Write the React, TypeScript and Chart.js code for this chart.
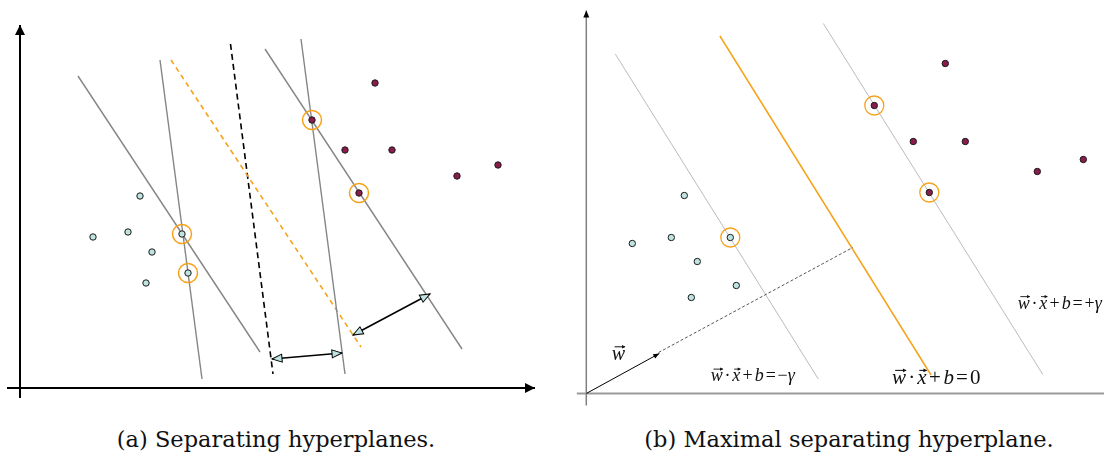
import { useEffect, useRef } from "react";
import { Chart, registerables } from "chart.js";

Chart.register(...registerables);

// ---------- Panel (a): separating hyperplanes (origin at the axes' crossing, y upwards) ----------
const aNegX = [120, 73, 108, 132, 126, 162, 168];
const aNegY = [192, 151, 156, 136, 105, 154, 115];
const aPosX = [355, 292, 325, 372, 339, 437, 478];
const aPosY = [305, 268, 238, 238, 195, 212, 223];
const aNegSupport = [5, 6];
const aPosSupport = [1, 4];
// segments: [x1, y1, x2, y2]
const aHyperplanes = [
  [58, 312, 240, 36],
  [140, 328, 182, 9],
  [245, 339, 442, 39],
  [281, 349, 325, 14],
];
const aOrangeDashed = [151, 328, 341, 41];
const aBlackDashed = [210.5, 344, 253, 14];
const aMarginArrows = [
  [252, 29, 322, 35],
  [333, 53, 410, 94],
];
const aXAxis = [-13, 0, 515, 0];
const aYAxis = [0, -10, 0, 363];

// ---------- Panel (b): maximal separating hyperplane ----------
const bNegX = [98, 46, 85, 111, 150, 105, 144];
const bNegY = [198, 150, 156, 132, 108, 96, 156];
const bPosX = [359, 288, 327, 379, 343, 451, 497];
const bPosY = [330, 288, 252, 252, 201, 222, 234];
const bNegSupport = [6];
const bPosSupport = [1, 4];
const bMarginMinus = [29, 339.5, 232, 14.5];
const bMarginPlus = [237, 370, 456.5, 19];
const bHyperplane = [133.6, 357.5, 344.7, 18.5];
const bNormalDashed = [72.3, 41, 266.4, 146];
const bWVector = [0, 0, 73, 40];
const bXAxis = [-9.5, 0, 518, 0];
const bYAxis = [0, -12, 0, 383];
const bLabelW = [32, 38.5];
const bLabelMinus = [166.5, 17];
const bLabelZero = [350, 14.5];
const bLabelPlus = [431.4, 89.5];

const captions = ["(a) Separating hyperplanes.", "(b) Maximal separating hyperplane."];

const TEAL = "#bfe3e1";
const MAROON = "#8a1c4c";
const ORANGE = "#f7a21b";

const pts = (xs: number[], ys: number[], idx?: number[]) =>
  (idx ?? xs.map((_, i) => i)).map((i) => ({ x: xs[i], y: ys[i] }));
const seg = (s: number[]) => [
  { x: s[0], y: s[1] },
  { x: s[2], y: s[3] },
];

const lineDs = (s: number[], color: string, width: number, extra: any = {}) => ({
  type: "line",
  data: seg(s),
  showLine: true,
  borderColor: color,
  borderWidth: width,
  pointRadius: 0,
  fill: false,
  tension: 0,
  ...extra,
});

const pointDs = (data: any[], fill: string, r: number, border: string, bw: number) => ({
  type: "scatter",
  data,
  pointRadius: r,
  pointHoverRadius: r,
  pointBackgroundColor: fill,
  pointBorderColor: border,
  pointBorderWidth: bw,
  showLine: false,
});

const arrowPlugin = {
  id: "arrowHeads",
  afterDatasetsDraw(chart: any) {
    const ctx = chart.ctx;
    chart.data.datasets.forEach((ds: any, i: number) => {
      if (!ds.heads) return;
      const el = chart.getDatasetMeta(i).data;
      const n = el.length;
      const draw = (tip: any, from: any, h: any) => {
        const ang = Math.atan2(tip.y - from.y, tip.x - from.x);
        ctx.save();
        ctx.translate(tip.x, tip.y);
        ctx.rotate(ang);
        ctx.beginPath();
        ctx.moveTo(0, 0);
        ctx.lineTo(-h.len, h.half);
        ctx.lineTo(-h.len, -h.half);
        ctx.closePath();
        ctx.fillStyle = h.fill;
        ctx.fill();
        if (h.stroke) {
          ctx.lineWidth = h.lw;
          ctx.strokeStyle = h.stroke;
          ctx.lineJoin = "miter";
          ctx.stroke();
        }
        ctx.restore();
      };
      if (ds.heads.end) draw(el[n - 1], el[n - 2], ds.heads.end);
      if (ds.heads.start) draw(el[0], el[1], ds.heads.start);
    });
  },
};

type Piece = { t: string; it?: boolean; vec?: boolean; pad?: number };
const formula = (rhs: Piece[]): Piece[] => [
  { t: "w", it: true, vec: true },
  { t: "\u00b7", pad: 0.1 },
  { t: "x", it: true, vec: true },
  { t: "+", pad: 0.12 },
  { t: "b", it: true },
  { t: "=", pad: 0.1 },
  ...rhs,
];

const drawFormula = (ctx: any, pieces: Piece[], x: number, y: number, size: number, align: string) => {
  const fam = '"Liberation Serif", "Times New Roman", serif';
  const fontOf = (p: Piece) => `${p.it ? "italic " : ""}${size}px ${fam}`;
  const widths = pieces.map((p) => {
    ctx.font = fontOf(p);
    return ctx.measureText(p.t).width + 2 * (p.pad ?? 0) * size;
  });
  const total = widths.reduce((a, b) => a + b, 0);
  let cx = align === "center" ? x - total / 2 : x;
  ctx.save();
  ctx.fillStyle = "#111";
  ctx.strokeStyle = "#111";
  ctx.textBaseline = "alphabetic";
  ctx.textAlign = "left";
  const base = y + size * 0.25;
  pieces.forEach((p, i) => {
    ctx.font = fontOf(p);
    const gx = cx + (p.pad ?? 0) * size;
    const w = ctx.measureText(p.t).width;
    ctx.fillText(p.t, gx, base);
    if (p.vec) {
      const ay = base - size * 0.66;
      const x0 = gx + w * 0.22;
      const x1 = gx + w * 1.0;
      ctx.lineWidth = Math.max(0.8, size * 0.05);
      ctx.beginPath();
      ctx.moveTo(x0, ay);
      ctx.lineTo(x1, ay);
      ctx.stroke();
      ctx.beginPath();
      ctx.moveTo(x1 + 0.5, ay);
      ctx.lineTo(x1 - size * 0.15, ay - size * 0.09);
      ctx.lineTo(x1 - size * 0.15, ay + size * 0.09);
      ctx.closePath();
      ctx.fill();
    }
    cx += widths[i];
  });
  ctx.restore();
};

const labelsPlugin = (labels: { at: number[]; pieces: Piece[]; size: number; align: string }[]) => ({
  id: "formulaLabels",
  afterDatasetsDraw(chart: any) {
    const xs = chart.scales.x;
    const ys = chart.scales.y;
    labels.forEach((l) =>
      drawFormula(chart.ctx, l.pieces, xs.getPixelForValue(l.at[0]), ys.getPixelForValue(l.at[1]), l.size, l.align)
    );
  },
});

const baseOptions = (xmin: number, xmax: number, ymin: number, ymax: number) => ({
  responsive: false,
  animation: false,
  devicePixelRatio: 1,
  layout: { padding: 0, autoPadding: false },
  plugins: { legend: { display: false }, tooltip: { enabled: false } },
  events: [],
  scales: {
    x: { type: "linear", min: xmin, max: xmax, display: false },
    y: { type: "linear", min: ymin, max: ymax, display: false },
  },
});

const blackHead = { len: 10, half: 5, fill: "#000" };
const tealHead = { len: 10, half: 4, fill: TEAL, stroke: "#000", lw: 1 };

function PanelA() {
  const ref = useRef<HTMLCanvasElement>(null);
  useEffect(() => {
    const datasets: any[] = [
      pointDs(pts(aNegX, aNegY, aNegSupport), "rgba(0,0,0,0)", 9.5, ORANGE, 1.5),
      pointDs(pts(aPosX, aPosY, aPosSupport), "rgba(0,0,0,0)", 9.5, ORANGE, 1.5),
      pointDs(pts(aNegX, aNegY), TEAL, 3.2, "#1a1a1a", 1),
      pointDs(pts(aPosX, aPosY), MAROON, 3.2, "#1a1a1a", 1),
      ...aMarginArrows.map((s) => ({ ...lineDs(s, "#000", 1.5), heads: { start: tealHead, end: tealHead } })),
      ...aHyperplanes.map((s) => lineDs(s, "#858585", 1.4)),
      lineDs(aOrangeDashed, ORANGE, 1.6, { borderDash: [5, 4] }),
      lineDs(aBlackDashed, "#000", 1.6, { borderDash: [6, 4] }),
      { ...lineDs(aXAxis, "#000", 2), heads: { end: blackHead } },
      { ...lineDs(aYAxis, "#000", 2), heads: { end: blackHead } },
    ];
    const chart = new Chart(ref.current as HTMLCanvasElement, {
      type: "scatter",
      data: { datasets },
      options: baseOptions(-20, 532, -22, 388) as any,
      plugins: [arrowPlugin as any],
    });
    return () => chart.destroy();
  }, []);
  return <canvas ref={ref} width={552} height={410} style={{ position: "absolute", left: 0, top: 0 }} />;
}

function PanelB() {
  const ref = useRef<HTMLCanvasElement>(null);
  useEffect(() => {
    const datasets: any[] = [
      pointDs(pts(bNegX, bNegY, bNegSupport), "rgba(0,0,0,0)", 9.5, ORANGE, 1.3),
      pointDs(pts(bPosX, bPosY, bPosSupport), "rgba(0,0,0,0)", 9.5, ORANGE, 1.3),
      pointDs(pts(bNegX, bNegY), TEAL, 3.2, "#1a1a1a", 1),
      pointDs(pts(bPosX, bPosY), MAROON, 3.2, "#1a1a1a", 1),
      { ...lineDs(bWVector, "#000", 1), heads: { end: { len: 6, half: 2.5, fill: "#000" } } },
      lineDs(bNormalDashed, "#444", 0.9, { borderDash: [3, 2] }),
      lineDs(bHyperplane, ORANGE, 1.5),
      lineDs(bMarginMinus, "#b3b3b3", 0.9),
      lineDs(bMarginPlus, "#b3b3b3", 0.9),
      lineDs(bXAxis, "#9a9a9a", 2),
      { ...lineDs(bYAxis, "#808080", 1.5), heads: { end: { len: 7, half: 3, fill: "#000" } } },
    ];
    const chart = new Chart(ref.current as HTMLCanvasElement, {
      type: "scatter",
      data: { datasets },
      options: baseOptions(-34.3, 517.7, -16.5, 393.5) as any,
      plugins: [
        arrowPlugin as any,
        labelsPlugin([
          { at: bLabelW, pieces: [{ t: "w", it: true, vec: true }], size: 20, align: "center" },
          { at: bLabelMinus, pieces: formula([{ t: "\u2212", pad: 0 }, { t: "\u03b3", it: true }]), size: 18, align: "center" },
          { at: bLabelZero, pieces: formula([{ t: "0" }]), size: 21, align: "center" },
          { at: bLabelPlus, pieces: formula([{ t: "+", pad: 0 }, { t: "\u03b3", it: true }]), size: 18, align: "left" },
        ]) as any,
      ],
    });
    return () => chart.destroy();
  }, []);
  return <canvas ref={ref} width={552} height={410} style={{ position: "absolute", left: 552, top: 0 }} />;
}

const captionStyle = (cx: number): any => ({
  position: "absolute",
  left: cx - 300,
  width: 600,
  top: 425,
  textAlign: "center",
  fontFamily: '"DejaVu Serif", serif',
  fontSize: 22.5,
  lineHeight: "28px",
  color: "#111",
  whiteSpace: "nowrap",
});

export default function App() {
  useEffect(() => {
    document.body.style.margin = "0";
  }, []);
  return (
    <div style={{ position: "relative", width: 1104, height: 457, overflow: "hidden", background: "#fff" }}>
      <PanelA />
      <PanelB />
      <div style={captionStyle(276)}>{captions[0]}</div>
      <div style={captionStyle(849)}>{captions[1]}</div>
    </div>
  );
}
